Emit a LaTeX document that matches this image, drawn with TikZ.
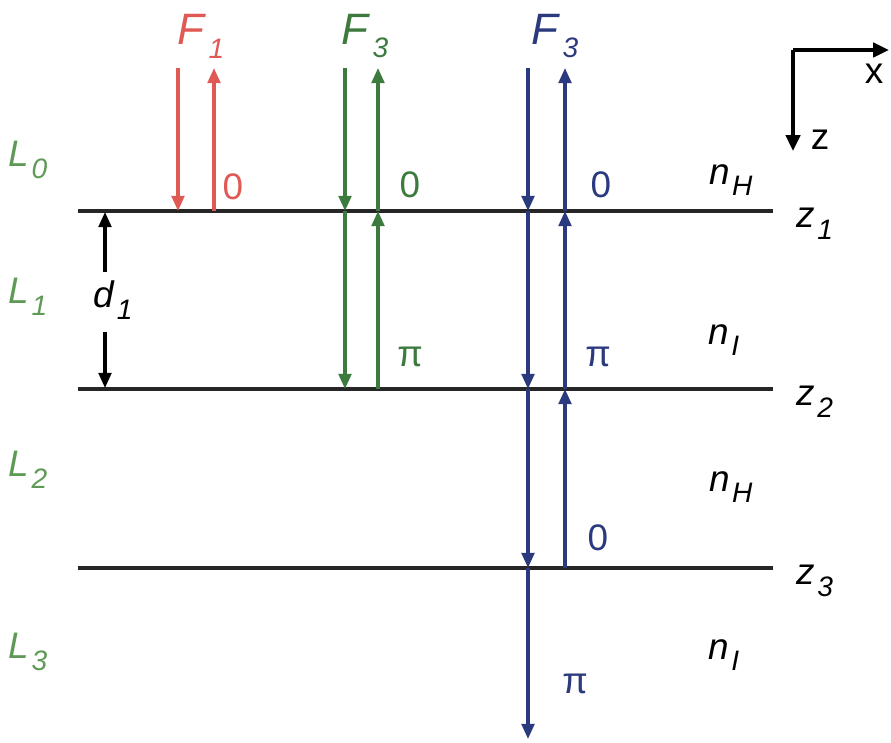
\documentclass[tikz,border=0pt]{standalone}
\usepackage{fontspec}
\setmainfont{Liberation Sans}
\usetikzlibrary{arrows.meta}
\definecolor{waveRed}   {HTML}{E05A55}
\definecolor{waveGreen} {HTML}{3C7A3E}
\definecolor{waveBlue}  {HTML}{2B3A7E}
\definecolor{layerGreen}{HTML}{5E9A55}
\newcommand{\symb}[2]{\textit{#1}\kern0.6pt\raisebox{-0.6ex}{\fontsize{8}{8}\selectfont\textit{#2}}}
\tikzset{
  wave/.style={line width=0.9pt, -{Triangle[length=4.3pt, width=3.6pt]}},
  iface/.style={line width=1.4pt, black!85},
  lbl/.style={inner sep=0pt, font=\fontsize{10.5}{12}\selectfont},
  big/.style={inner sep=0pt, font=\fontsize{12.5}{14}\selectfont},
}

\begin{document}
\begin{tikzpicture}[x=0.01cm, y=-0.01cm]
\useasboundingbox (0,0) rectangle (891,743);

% --- INTERFACES ---
\foreach \i/\y in {1/211, 2/389, 3/568}{
  \coordinate (a\i) at (78,\y);
  \coordinate (b\i) at (773,\y);
  \draw[iface] (a\i) -- (b\i);
  \node[lbl] (z\i) at (815,\y+13) {\symb{z}{\i}};
}

% --- LAYERS ---
\foreach \i/\y in {0/160, 1/297, 2/470, 3/652}{
  \node[lbl, text=layerGreen] (L\i) at (28,\y) {\symb{L}{\i}};
}
\node[lbl] (n0) at (731,180) {\symb{n}{H}};
\node[lbl] (n1) at (724,340) {\symb{n}{I}};
\node[lbl] (n2) at (731,487) {\symb{n}{H}};
\node[lbl] (n3) at (724,655) {\symb{n}{I}};

% --- RED : F1 ---
\node[big, text=waveRed] (F1) at (201,36) {\symb{F}{1}};
\coordinate (rd0) at (178,68);  \coordinate (rd1) at (178,211);
\coordinate (ru0) at (214,211); \coordinate (ru1) at (214,68);
\draw[wave, waveRed] (rd0) -- (rd1);
\draw[wave, waveRed] (ru0) -- (ru1);
\node[lbl, text=waveRed] (r0) at (233,187) {0};

% --- GREEN : F3 ---
\node[big, text=waveGreen] (F3g) at (365,36) {\symb{F}{3}};
\foreach \k/\y in {0/68, 1/211, 2/389}{
  \coordinate (gd\k) at (345,\y);
  \coordinate (gu\k) at (378,\y);
}
\foreach \a/\b in {0/1, 1/2}
  \draw[wave, waveGreen] (gd\a) -- (gd\b);
\foreach \a/\b in {2/1, 1/0}
  \draw[wave, waveGreen] (gu\a) -- (gu\b);
\node[lbl, text=waveGreen] (g0) at (410,185) {0};
\node[lbl, text=waveGreen] (g1) at (410,357) {π};

% --- BLUE : F3 ---
\node[big, text=waveBlue] (F3b) at (555,36) {\symb{F}{3}};
\foreach \k/\y in {0/68, 1/211, 2/389, 3/568, 4/739}
  \coordinate (bd\k) at (528,\y);
\foreach \k/\y in {0/68, 1/211, 2/389, 3/568}
  \coordinate (bu\k) at (565,\y);
\foreach \a/\b in {0/1, 1/2, 2/3, 3/4}
  \draw[wave, waveBlue] (bd\a) -- (bd\b);
\foreach \a/\b in {3/2, 2/1, 1/0}
  \draw[wave, waveBlue] (bu\a) -- (bu\b);
\node[lbl, text=waveBlue] (p0) at (601,185) {0};
\node[lbl, text=waveBlue] (p1) at (598,357) {π};
\node[lbl, text=waveBlue] (p2) at (598,538) {0};
\node[lbl, text=waveBlue] (p3) at (575,684) {π};

% --- THICKNESS d1 ---
\node[lbl] (d1) at (113,300) {\symb{d}{1}};
\coordinate (dt) at (105,212); \coordinate (db) at (105,388);
\draw[wave, black] (d1.north -| dt) ++(0,-8) coordinate (d1t) -- (dt);
\draw[wave, black] (d1.south -| db) ++(0,12) coordinate (d1b) -- (db);

% --- AXES ---
\coordinate (o) at (793,50);
\coordinate (ox) at (889,50);
\coordinate (oz) at (793,151);
\draw[line width=1.1pt, -{Triangle[length=4.5pt, width=4pt]}] (o) -- (ox);
\draw[line width=1.1pt, -{Triangle[length=4.5pt, width=4pt]}] (o) -- (oz);
\node[lbl] (xl) at (874,74) {x};
\node[lbl] (zl) at (820,140) {z};

\end{tikzpicture}
\end{document}
